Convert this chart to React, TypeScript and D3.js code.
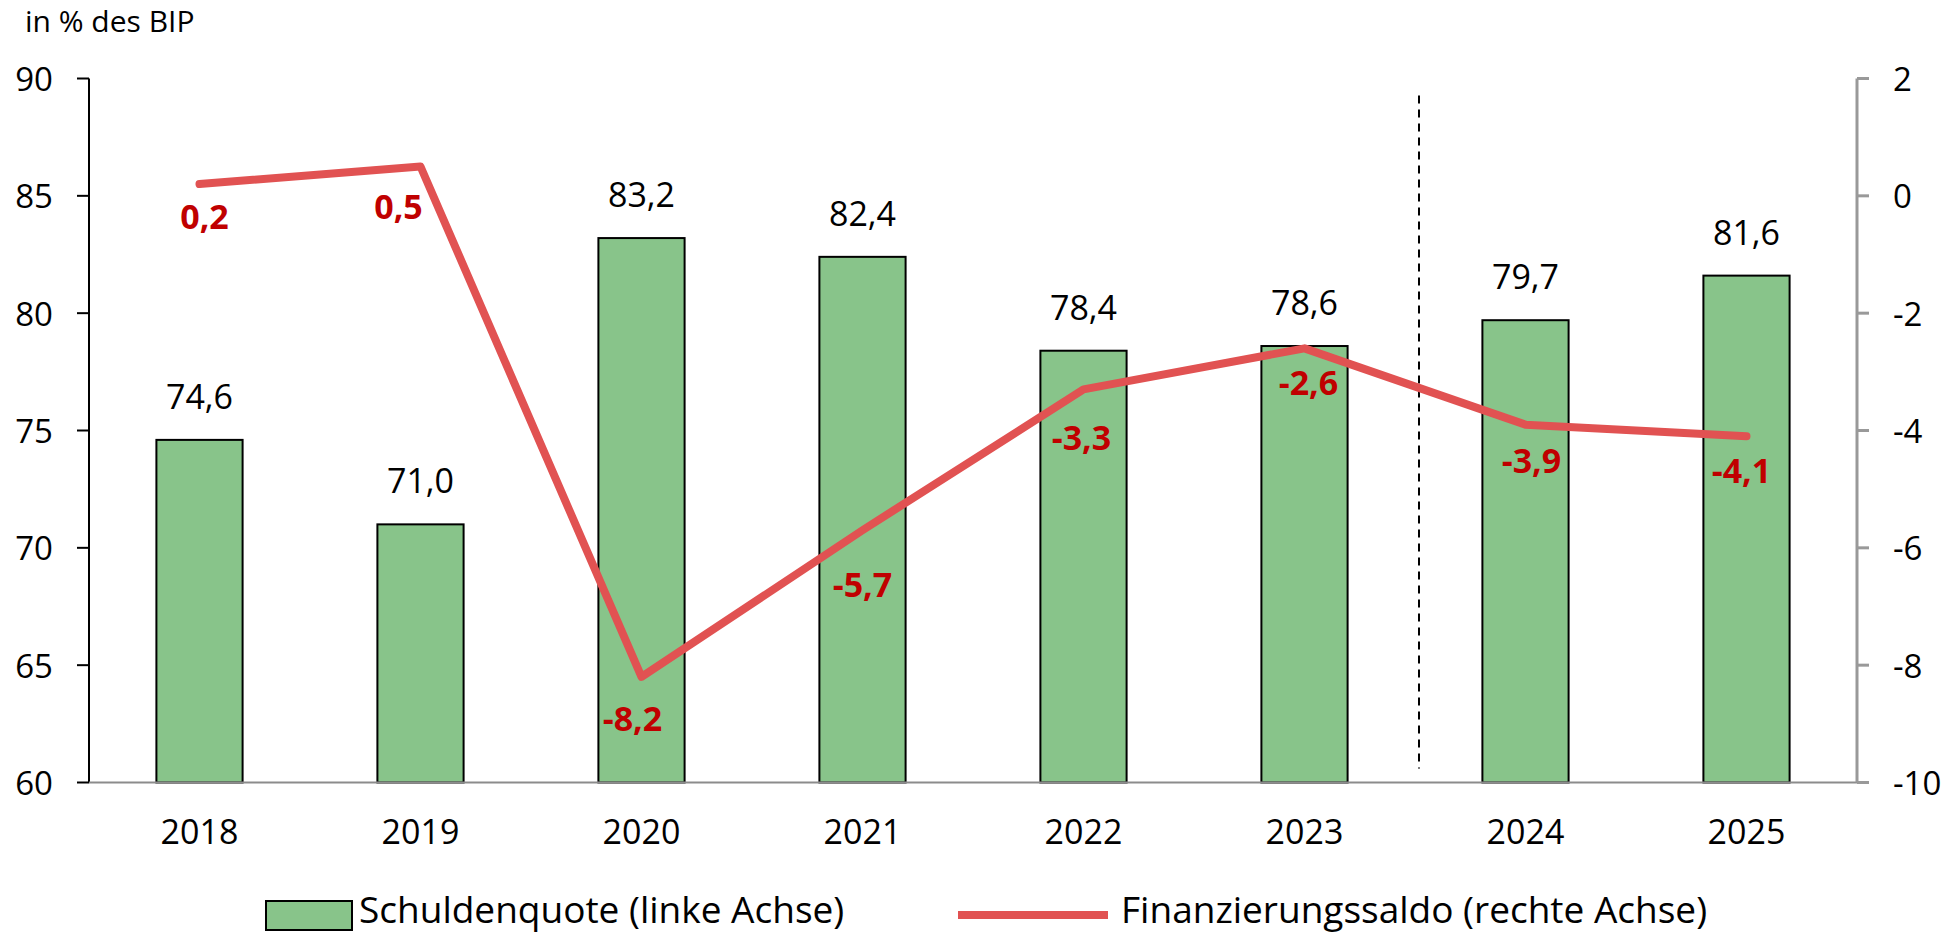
import * as d3 from "d3";

const years = ["2018", "2019", "2020", "2021", "2022", "2023", "2024", "2025"];
// Schuldenquote, linke Achse
const debt = [74.6, 71.0, 83.2, 82.4, 78.4, 78.6, 79.7, 81.6];
// Finanzierungssaldo, rechte Achse
const balance = [0.2, 0.5, -8.2, -5.7, -3.3, -2.6, -3.9, -4.1];
const leftTicks = [60, 65, 70, 75, 80, 85, 90];
const rightTicks = [-10, -8, -6, -4, -2, 0, 2];

// label nudges for the red labels (as placed in the original)
const balanceLabelDx = [5, -22, -9, 0, -2, 4, 6, -5];
const balanceLabelDy = [45, 52, 54, 67, 61, 47, 48, 47];

const fmt = (v: number) => d3.format(".1f")(v).replace(".", ",").replace("\u2212", "-");

const FONT = "'Open Sans', 'Noto Sans', sans-serif";
const GREEN = "#88C48A";
const RED = "#E15252";
const DARKRED = "#C00000";

function App() {
  const width = 1957;
  const height = 935;
  const left = 89;
  const right = 1857;
  const top = 78.5;
  const bottom = 782.5;

  const x = d3
    .scaleBand()
    .domain(years)
    .range([left, right])
    .paddingInner(0.61)
    .paddingOuter(0.305);
  const cx = (y: string) => (x(y) as number) + x.bandwidth() / 2;

  const yL = d3.scaleLinear().domain([60, 90]).range([bottom, top]);
  const yR = d3.scaleLinear().domain([-10, 2]).range([bottom, top]);

  const line = d3
    .line<number>()
    .x((_, i) => cx(years[i]))
    .y((d) => yR(d));

  const splitX = (cx("2023") + cx("2024")) / 2 + 4;

  return (
    <div>
      <style>{`body{margin:0}`}</style>
      <svg width={width} height={height} style={{ display: "block", fontFamily: FONT }}>
        <rect width={width} height={height} fill="#fff" />
        <text x={25} y={32} fontSize={30} fill="#000">
          in % des BIP
        </text>

        {/* bars */}
        {debt.map((d, i) => (
          <rect
            key={years[i]}
            x={x(years[i])}
            y={yL(d)}
            width={x.bandwidth()}
            height={yL(60) - yL(d)}
            fill={GREEN}
            stroke="#000"
            strokeWidth={2}
          />
        ))}
        {debt.map((d, i) => (
          <text
            key={"l" + years[i]}
            x={cx(years[i])}
            y={yL(d) - 31}
            textAnchor="middle"
            fontSize={34}
            fill="#000"
          >
            {fmt(d)}
          </text>
        ))}

        {/* left axis */}
        <line x1={left} x2={left} y1={top} y2={bottom} stroke="#000" strokeWidth={2} />
        {leftTicks.map((t) => (
          <g key={t} transform={`translate(0,${yL(t)})`}>
            <line x1={left - 12} x2={left} stroke="#000" strokeWidth={2} />
            <text x={53} textAnchor="end" dominantBaseline="central" fontSize={33}>
              {t}
            </text>
          </g>
        ))}

        {/* bottom axis */}
        <line x1={left} x2={right} y1={bottom} y2={bottom} stroke="#8c8c8c" strokeWidth={2} />
        {years.map((y) => (
          <text key={y} x={cx(y)} y={844} textAnchor="middle" fontSize={34}>
            {y}
          </text>
        ))}

        {/* right axis */}
        <line x1={right} x2={right} y1={top} y2={bottom} stroke="#999" strokeWidth={3} />
        {rightTicks.map((t) => (
          <g key={t} transform={`translate(0,${yR(t)})`}>
            <line x1={right} x2={right + 12} stroke="#999" strokeWidth={3} />
            <text x={1893} dominantBaseline="central" fontSize={33}>
              {t}
            </text>
          </g>
        ))}

        {/* projection separator */}
        <line
          x1={splitX}
          x2={splitX}
          y1={top + 17}
          y2={bottom - 14}
          stroke="#000"
          strokeWidth={2}
          strokeDasharray="8 6"
        />

        {/* balance line */}
        <path
          d={line(balance) ?? ""}
          fill="none"
          stroke={RED}
          strokeWidth={8}
          strokeLinecap="round"
          strokeLinejoin="round"
        />
        {balance.map((d, i) => (
          <text
            key={"b" + years[i]}
            x={cx(years[i]) + balanceLabelDx[i]}
            y={yR(d) + balanceLabelDy[i]}
            textAnchor="middle"
            fontSize={34}
            fontWeight="bold"
            fill={DARKRED}
          >
            {fmt(d)}
          </text>
        ))}

        {/* legend */}
        <rect x={266} y={901} width={86} height={29} fill={GREEN} stroke="#000" strokeWidth={2} />
        <text x={359} y={923} fontSize={37}>
          Schuldenquote (linke Achse)
        </text>
        <line x1={958} x2={1108} y1={915} y2={915} stroke={RED} strokeWidth={8} />
        <text x={1121} y={923} fontSize={37}>
          Finanzierungssaldo (rechte Achse)
        </text>
      </svg>
    </div>
  );
}

export default App;
